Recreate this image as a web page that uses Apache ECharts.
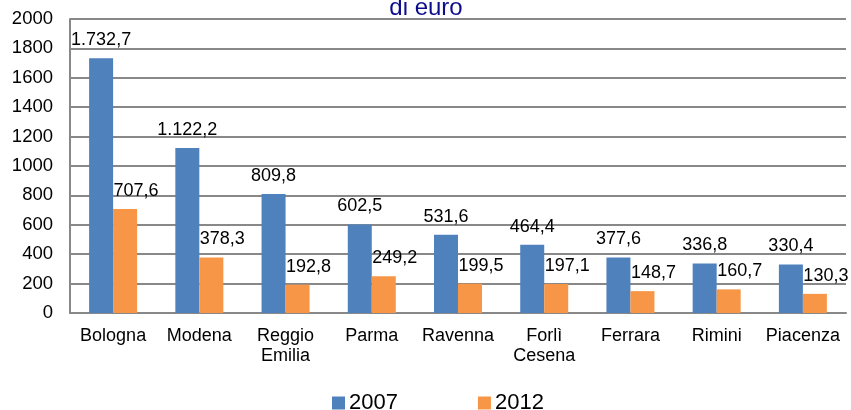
<!DOCTYPE html>
<html>
<head>
<meta charset="utf-8">
<script src="https://cdn.jsdelivr.net/npm/echarts@6/dist/echarts.min.js"></script>
<style>
  html, body { margin: 0; padding: 0; background: #fff; }
  #chart { width: 851px; height: 410px; }
</style>
</head>
<body>
<div id="chart"></div>
<script>
// Province names (x axis)
const provinces = ['Bologna', 'Modena', 'Reggio\nEmilia', 'Parma', 'Ravenna', 'Forlì\nCesena', 'Ferrara', 'Rimini', 'Piacenza'];
// Values in millions of euro
const values2007 = [1732.7, 1122.2, 809.8, 602.5, 531.6, 464.4, 377.6, 336.8, 330.4];
const values2012 = [707.6, 378.3, 192.8, 249.2, 199.5, 197.1, 148.7, 160.7, 130.3];
const seriesNames = ['2007', '2012'];

// Italian number format: thousands with ".", decimals with ","
function fmtIt(v) {
  const parts = v.toFixed(1).split('.');
  const intPart = parts[0].replace(/\B(?=(\d{3})+(?!\d))/g, '.');
  return intPart + ',' + parts[1];
}

const chart = echarts.init(document.getElementById('chart'), null, { renderer: 'canvas' });
const font = 'Liberation Sans, Arial, sans-serif';

function labelCfg(dx) {
  return {
    show: true,
    position: 'top',
    distance: 9,
    offset: [dx, 0],
    color: '#000',
    fontFamily: font,
    fontSize: 18,
    formatter: p => fmtIt(p.value)
  };
}

chart.setOption({
  animation: false,
  title: {
    text: 'di euro',
    left: 421,
    textAlign: 'center',
    top: -9,
    textStyle: { color: '#0d0d8c', fontFamily: font, fontSize: 24, fontWeight: 'normal' }
  },
  legend: {
    data: seriesNames,
    bottom: -4,
    left: 332,
    padding: 0,
    itemGap: 80,
    itemWidth: 13,
    itemHeight: 13,
    icon: 'rect',
    textStyle: { fontFamily: font, fontSize: 22, color: '#000', padding: [0, 0, 0, -1] }
  },
  grid: { left: 70, right: 5, top: 19, bottom: 97, containLabel: false },
  xAxis: {
    type: 'category',
    data: provinces,
    axisLine: { lineStyle: { color: '#888', width: 2 } },
    axisTick: { show: false },
    axisLabel: { color: '#000', fontFamily: font, fontSize: 18, margin: 13, lineHeight: 20, interval: 0 }
  },
  yAxis: {
    type: 'value',
    min: 0,
    max: 2000,
    interval: 200,
    axisLine: { show: true, lineStyle: { color: '#888', width: 2 } },
    axisTick: { show: false },
    axisLabel: { color: '#000', fontFamily: font, fontSize: 18.5, margin: 17, formatter: v => String(v) },
    splitLine: { lineStyle: { color: '#888', width: 2 } }
  },
  series: [
    {
      name: seriesNames[0],
      type: 'bar',
      data: values2007,
      barWidth: 24,
      barGap: '0%',
      itemStyle: { color: '#4F81BD' },
      label: labelCfg(0)
    },
    {
      name: seriesNames[1],
      type: 'bar',
      data: values2012,
      barWidth: 24,
      barGap: '0%',
      itemStyle: { color: '#F79646' },
      label: labelCfg(11)
    }
  ]
});
</script>
</body>
</html>
